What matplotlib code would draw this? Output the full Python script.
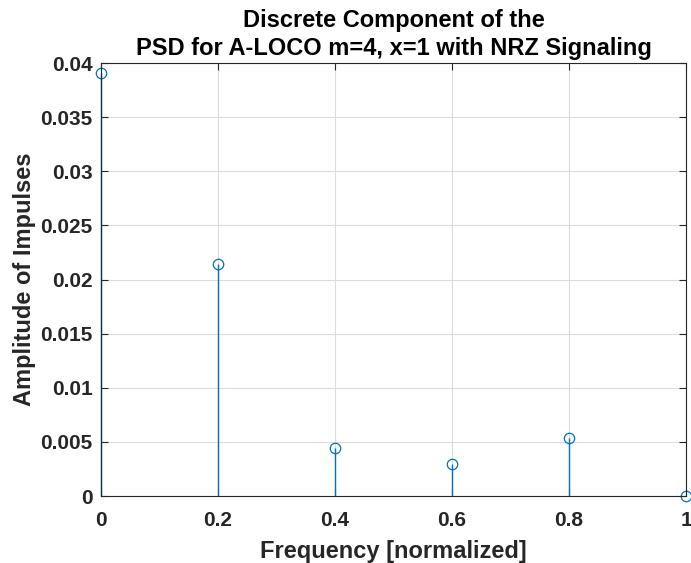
import matplotlib
matplotlib.use("Agg")
import matplotlib.pyplot as plt

freq = [0.0, 0.2, 0.4, 0.6, 0.8, 1.0]
amp = [0.0391, 0.02143, 0.00443, 0.00296, 0.00536, 0.0]
xticks = [0, 0.2, 0.4, 0.6, 0.8, 1]
xticklabels = ["0", "0.2", "0.4", "0.6", "0.8", "1"]
yticks = [0, 0.005, 0.01, 0.015, 0.02, 0.025, 0.03, 0.035, 0.04]
yticklabels = ["0", "0.005", "0.01", "0.015", "0.02", "0.025", "0.03", "0.035", "0.04"]

plt.rcParams['font.family'] = ['Liberation Sans', 'DejaVu Sans']
plt.rcParams['font.weight'] = 'bold'

fig = plt.figure(figsize=(6.91, 5.63), dpi=100)
ax = fig.add_axes([0.146, 0.119, 0.847, 0.769])
c = '#0072BD'
ml, sl, bl = ax.stem(freq, amp, basefmt=' ')
plt.setp(sl, color=c, linewidth=1.0)
plt.setp(ml, marker='o', markerfacecolor='none', markeredgecolor=c, markersize=7.5, markeredgewidth=0.9)
for m in [ml, sl]:
    m.set_clip_on(False)

ax.set_xlim(0, 1)
ax.set_ylim(0, 0.04)
ax.set_xticks(xticks)
ax.set_xticklabels(xticklabels)
ax.set_yticks(yticks)
ax.set_yticklabels(yticklabels)
ax.grid(True, color='#dcdcdc', linewidth=0.8)
ax.set_axisbelow(True)
ax.tick_params(direction='in', length=5, width=0.8, colors='#262626', labelsize=15,
               top=True, right=True, labeltop=False, labelright=False)
ax.tick_params(axis='x', pad=11)
ax.tick_params(axis='y', pad=6)
for s in ax.spines.values():
    s.set_color('#262626')
    s.set_linewidth(0.8)
ax.set_xlabel('Frequency [normalized]', fontsize=17, fontweight='bold', color='#262626', labelpad=7)
ax.set_ylabel('Amplitude of Impulses', fontsize=17, fontweight='bold', color='#262626', labelpad=3)
ax.set_title('Discrete Component of the\nPSD for A-LOCO m=4, x=1 with NRZ Signaling', fontsize=17,
             fontweight='bold', color='black', linespacing=1.25, pad=6)
fig.savefig('out.png', dpi=100)
